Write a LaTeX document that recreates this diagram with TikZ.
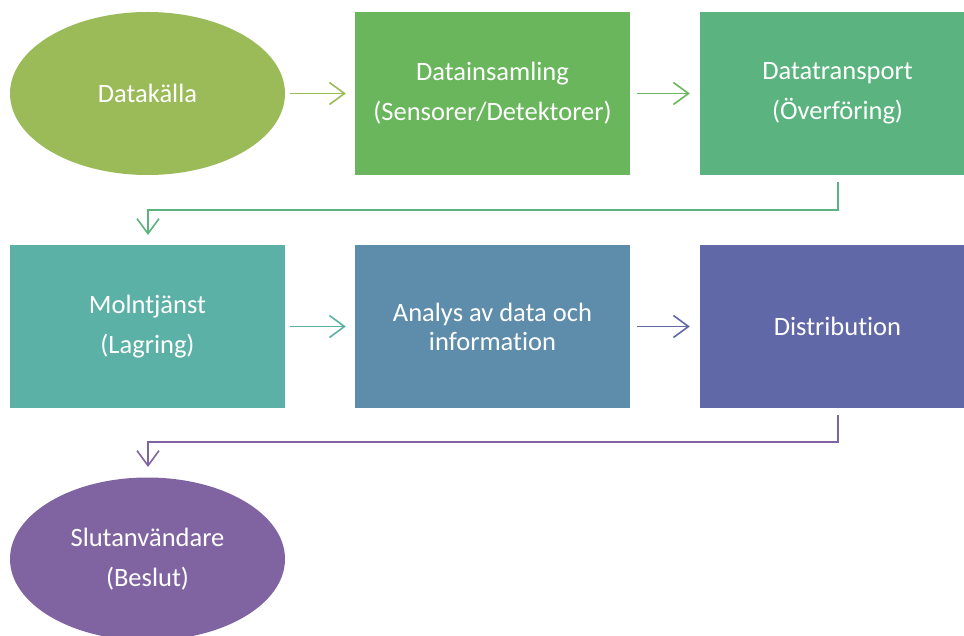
\documentclass[tikz,border=0pt]{standalone}
\usepackage{fontspec}
\setmainfont{Carlito}[Ligatures=NoCommon]
\usetikzlibrary{arrows.meta,shapes.geometric}
\definecolor{cA}{HTML}{9BBB59}
\definecolor{cB}{HTML}{6AB65D}
\definecolor{cC}{HTML}{5BB47F}
\definecolor{cD}{HTML}{5CB1A6}
\definecolor{cE}{HTML}{5E8DAB}
\definecolor{cF}{HTML}{6168A7}
\definecolor{cG}{HTML}{8064A2}
\tikzset{
  x=1pt, y=-1pt,
  lbl/.style={text=white, font=\fontsize{26.5}{40}\selectfont, align=center, inner sep=0pt},
  boxnode/.style={lbl, rectangle, minimum width=275pt, minimum height=163pt},
  ovalnode/.style={lbl, ellipse, minimum width=275pt, minimum height=163pt},
  flow/.style={line width=1.6pt, -{Straight Barb[length=15pt,width=22pt,line width=1.6pt]}},
}
\begin{document}
\begin{tikzpicture}
\useasboundingbox (0,0) rectangle (964,636);
\clip (0,0) rectangle (964,636);
% row 1
\node[ovalnode, fill=cA] (src) at (147.5,93.5) {Datakälla};
\node[boxnode, fill=cB] (coll) at (492.5,93.5) {Datainsamling\\(Sensorer/Detektorer)};
\node[boxnode, fill=cC] (trans) at (837.5,93.5) {Datatransport\\(Överföring)};
% row 2
\node[boxnode, fill=cD] (cloud) at (147.5,326.5) {Molntjänst\\(Lagring)};
\node[boxnode, fill=cE, font=\fontsize{26.5}{29}\selectfont] (ana) at (492.5,326.5) {Analys av data och\\information};
\node[boxnode, fill=cF] (dist) at (837.5,326.5) {Distribution};
% row 3
\node[ovalnode, fill=cG] (user) at (147.5,559) {Slutanvändare\\(Beslut)};
% connectors
\coordinate (e1a) at (838,182);
\coordinate (e1b) at (148,235);
\coordinate (e2a) at (838,415);
\coordinate (e2b) at (148,467);
\draw[flow, cA] ([xshift=5pt]src.east) -- ([xshift=-9pt]coll.west);
\draw[flow, cB] ([xshift=7pt]coll.east) -- ([xshift=-10pt]trans.west);
\draw[flow, cC] (e1a) -- (838,210) -- (148,210) -- (e1b);
\draw[flow, cD] ([xshift=5pt]cloud.east) -- ([xshift=-9pt]ana.west);
\draw[flow, cF] ([xshift=7pt]ana.east) -- ([xshift=-10pt]dist.west);
\draw[flow, cG] (e2a) -- (838,442) -- (148,442) -- (e2b);
\end{tikzpicture}
\end{document}
